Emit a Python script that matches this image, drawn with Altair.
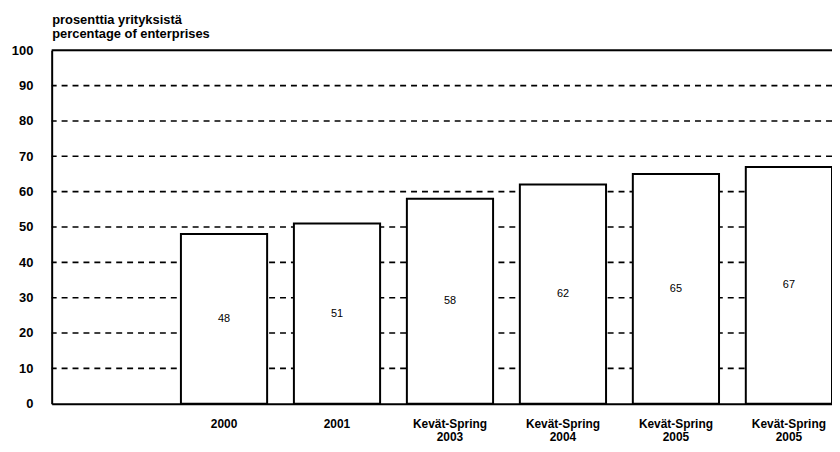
import json
import altair as alt
import pandas as pd

# ---- data ----
slot_labels = ["", "2000", "2001", "Kevät-Spring|2003", "Kevät-Spring|2004",
               "Kevät-Spring|2005", "Kevät-Spring|2005"]
bar_slots = [1, 2, 3, 4, 5, 6]
bar_values = [48, 51, 58, 62, 65, 67]
grid_values = [10, 20, 30, 40, 50, 60, 70, 80, 90]
top_value = [100]
y_ticks = [0, 10, 20, 30, 40, 50, 60, 70, 80, 90, 100]
y_title = ["prosenttia yrityksistä", "percentage of enterprises"]

FONT = "Liberation Sans"

bars_df = pd.DataFrame({"slot": bar_slots, "value": bar_values})
grid_df = pd.DataFrame({"g": grid_values})
top_df = pd.DataFrame({"g": top_value})

label_expr = "split(" + json.dumps(slot_labels) + "[datum.value], '|')"

x_scale = alt.Scale(domain=list(range(len(slot_labels))),
                    paddingInner=0.237, paddingOuter=0.072, align=1)
y_scale = alt.Scale(domain=[0, 100], nice=False)

y_axis = alt.Axis(values=y_ticks, grid=False, ticks=False, tickSize=0,
                  labelPadding=19, labelFont=FONT, labelFontSize=13,
                  labelFontWeight="bold", labelColor="black",
                  domainColor="black", domainWidth=2,
                  title=y_title, titleAngle=0, titleAlign="left",
                  titleBaseline="alphabetic", titleX=0, titleY=-27,
                  titleLineHeight=14, titleFont=FONT, titleFontSize=13,
                  titleFontWeight="bold", titleColor="black")

x_axis = alt.Axis(title=None, labelExpr=label_expr, labelAngle=0,
                  ticks=False, tickSize=0, labelPadding=15,
                  labelBaseline="top", labelLineHeight=13,
                  labelFont=FONT, labelFontSize=12, labelFontWeight="bold",
                  labelColor="black", domainColor="black", domainWidth=2)

grid = alt.Chart(grid_df).mark_rule(
    color="black", strokeWidth=1.6, strokeDash=[6, 5]
).encode(y=alt.Y("g:Q", scale=y_scale, axis=y_axis))

top = alt.Chart(top_df).mark_rule(
    color="black", strokeWidth=2
).encode(y=alt.Y("g:Q", scale=y_scale, axis=y_axis))

bars = alt.Chart(bars_df).mark_bar(
    fill="white", stroke="black", strokeWidth=2
).encode(
    x=alt.X("slot:O", scale=x_scale, axis=x_axis),
    y=alt.Y("value:Q", scale=y_scale, axis=y_axis),
)

labels = alt.Chart(bars_df).transform_calculate(
    mid="datum.value / 2"
).mark_text(font=FONT, fontSize=11, color="black").encode(
    x=alt.X("slot:O", scale=x_scale, axis=x_axis),
    y=alt.Y("mid:Q", scale=y_scale, axis=y_axis),
    text=alt.Text("value:Q"),
)

chart = alt.layer(grid, top, bars, labels).properties(
    width=786, height=356,
    autosize=alt.AutoSizeParams(type="none"),
    padding={"left": 44, "top": 41, "right": 0, "bottom": 39},
).configure_view(stroke=None).configure(background="white")

chart.save("out.html", embed_options={"renderer": "svg", "actions": False})
